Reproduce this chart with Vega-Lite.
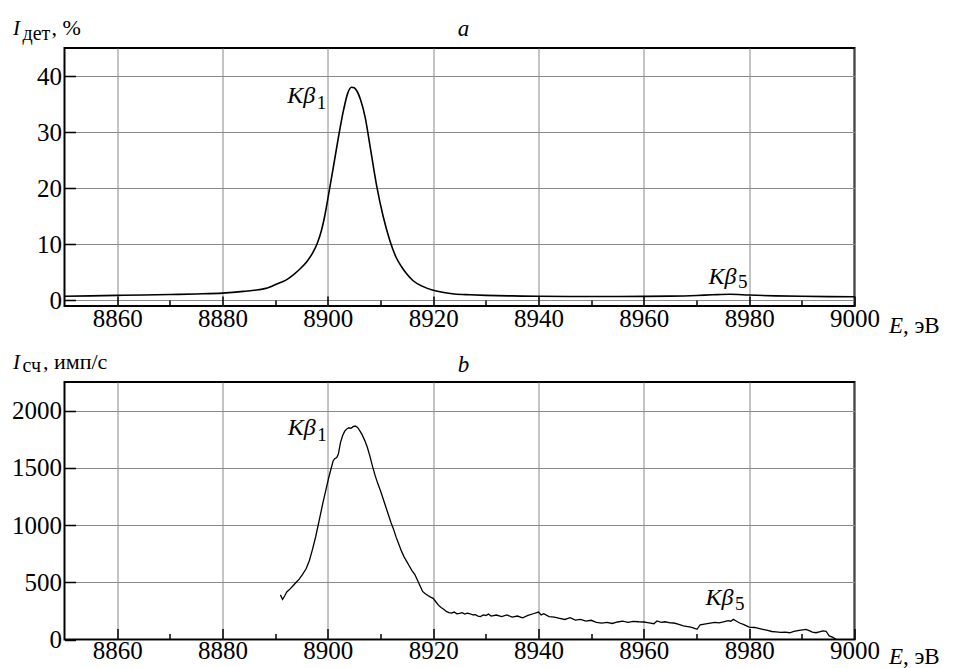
{
  "$schema": "https://vega.github.io/schema/vega-lite/v6.json",
  "padding": {"left": 10.5, "top": 16, "right": 0, "bottom": 0},
  "bounds": "flush",
  "spacing": 76,
  "background": "white",
  "config": {
    "font": "'Liberation Serif', 'Times New Roman', 'DejaVu Serif', serif",
    "view": {"stroke": "black", "strokeWidth": 2},
    "axis": {
      "domain": false,
      "labelFontSize": 25,
      "labelColor": "black",
      "tickColor": "black",
      "tickWidth": 1.5,
      "gridColor": "#8a8a8a",
      "gridWidth": 1,
      "labelOverlap": false,
      "labelFlush": false
    }
  },
  "datasets": {
    "top": [
      {"E": 8850, "I": 0.73}, {"E": 8855, "I": 0.8}, {"E": 8860, "I": 0.9}, {"E": 8865, "I": 0.95},
      {"E": 8870, "I": 1.05}, {"E": 8875, "I": 1.15}, {"E": 8880, "I": 1.3}, {"E": 8884, "I": 1.6},
      {"E": 8886, "I": 1.8}, {"E": 8888, "I": 2.1}, {"E": 8889, "I": 2.4}, {"E": 8890, "I": 2.8},
      {"E": 8891, "I": 3.2}, {"E": 8892.2, "I": 3.7}, {"E": 8893.5, "I": 4.6}, {"E": 8894.7, "I": 5.6},
      {"E": 8896, "I": 6.9}, {"E": 8897.2, "I": 8.6}, {"E": 8898, "I": 10.2}, {"E": 8898.8, "I": 12.5},
      {"E": 8899.4, "I": 15.0}, {"E": 8900, "I": 18.1}, {"E": 8901, "I": 23.5}, {"E": 8902, "I": 29.0},
      {"E": 8903, "I": 34.0}, {"E": 8903.8, "I": 37.0}, {"E": 8904.5, "I": 38.0}, {"E": 8905.0, "I": 37.9},
      {"E": 8905.6, "I": 37.2}, {"E": 8906.2, "I": 35.8}, {"E": 8907.1, "I": 32.6}, {"E": 8908.0, "I": 27.6},
      {"E": 8909.3, "I": 20.3}, {"E": 8910.5, "I": 15.0}, {"E": 8911.8, "I": 10.6}, {"E": 8913.0, "I": 7.6},
      {"E": 8914, "I": 6.0}, {"E": 8915, "I": 4.7}, {"E": 8916.2, "I": 3.5}, {"E": 8918, "I": 2.5},
      {"E": 8920, "I": 1.8}, {"E": 8922, "I": 1.4}, {"E": 8924, "I": 1.15}, {"E": 8927, "I": 1.0},
      {"E": 8930, "I": 0.9}, {"E": 8935, "I": 0.8}, {"E": 8940, "I": 0.73}, {"E": 8950, "I": 0.7},
      {"E": 8960, "I": 0.72}, {"E": 8965, "I": 0.76}, {"E": 8970, "I": 0.88}, {"E": 8973, "I": 1.0},
      {"E": 8976.3, "I": 1.1}, {"E": 8980, "I": 0.95}, {"E": 8985, "I": 0.8}, {"E": 8990, "I": 0.73},
      {"E": 8995, "I": 0.68}, {"E": 9000, "I": 0.65}
    ],
    "bot": [
      {"E": 8891.0, "N": 390}, {"E": 8891.4, "N": 350}, {"E": 8891.8, "N": 380}, {"E": 8892.2, "N": 415},
      {"E": 8892.8, "N": 440}, {"E": 8893.4, "N": 470}, {"E": 8894.0, "N": 500}, {"E": 8894.6, "N": 530},
      {"E": 8895.2, "N": 570}, {"E": 8895.9, "N": 620}, {"E": 8896.5, "N": 690}, {"E": 8897.1, "N": 790},
      {"E": 8897.7, "N": 900}, {"E": 8898.4, "N": 1050}, {"E": 8899.0, "N": 1180}, {"E": 8899.7, "N": 1320},
      {"E": 8900.2, "N": 1420}, {"E": 8900.6, "N": 1490}, {"E": 8901.0, "N": 1560}, {"E": 8901.3, "N": 1580},
      {"E": 8901.7, "N": 1590}, {"E": 8902.0, "N": 1620}, {"E": 8902.4, "N": 1720}, {"E": 8902.8, "N": 1780},
      {"E": 8903.2, "N": 1820}, {"E": 8903.6, "N": 1840}, {"E": 8904.0, "N": 1850}, {"E": 8904.4, "N": 1845},
      {"E": 8904.8, "N": 1860}, {"E": 8905.2, "N": 1865}, {"E": 8905.6, "N": 1855}, {"E": 8906.0, "N": 1830},
      {"E": 8906.5, "N": 1790}, {"E": 8907.0, "N": 1740}, {"E": 8907.5, "N": 1680}, {"E": 8908.0, "N": 1600},
      {"E": 8908.5, "N": 1510}, {"E": 8909.0, "N": 1430}, {"E": 8909.5, "N": 1360}, {"E": 8910.0, "N": 1300},
      {"E": 8910.5, "N": 1230}, {"E": 8911.0, "N": 1160}, {"E": 8911.5, "N": 1090}, {"E": 8912.0, "N": 1020},
      {"E": 8912.5, "N": 960}, {"E": 8913.0, "N": 890}, {"E": 8913.5, "N": 830}, {"E": 8914.0, "N": 770},
      {"E": 8914.5, "N": 720}, {"E": 8915.0, "N": 680}, {"E": 8915.5, "N": 640}, {"E": 8916.0, "N": 600},
      {"E": 8916.5, "N": 570}, {"E": 8917.0, "N": 520}, {"E": 8917.5, "N": 470}, {"E": 8918.0, "N": 420},
      {"E": 8918.5, "N": 400}, {"E": 8919.0, "N": 385}, {"E": 8919.5, "N": 370}, {"E": 8920.0, "N": 360},
      {"E": 8920.5, "N": 330}, {"E": 8921.0, "N": 300}, {"E": 8921.5, "N": 280}, {"E": 8922.0, "N": 265},
      {"E": 8922.5, "N": 245}, {"E": 8923.0, "N": 235}, {"E": 8923.5, "N": 230}, {"E": 8924.0, "N": 240},
      {"E": 8924.5, "N": 225}, {"E": 8925.0, "N": 228}, {"E": 8925.5, "N": 235}, {"E": 8926.0, "N": 222},
      {"E": 8926.5, "N": 230}, {"E": 8927.0, "N": 225}, {"E": 8927.5, "N": 215}, {"E": 8928.0, "N": 218},
      {"E": 8928.5, "N": 205}, {"E": 8929.0, "N": 200}, {"E": 8929.5, "N": 215}, {"E": 8930.0, "N": 210},
      {"E": 8930.5, "N": 222}, {"E": 8931.0, "N": 205}, {"E": 8932.0, "N": 214}, {"E": 8933.0, "N": 200},
      {"E": 8934.0, "N": 215}, {"E": 8935.0, "N": 195}, {"E": 8936.0, "N": 205}, {"E": 8937.0, "N": 190},
      {"E": 8938.0, "N": 210}, {"E": 8939.0, "N": 225}, {"E": 8940.0, "N": 240}, {"E": 8940.5, "N": 215},
      {"E": 8941.0, "N": 225}, {"E": 8942.0, "N": 200}, {"E": 8943.0, "N": 195}, {"E": 8944.0, "N": 185},
      {"E": 8945.0, "N": 175}, {"E": 8946.0, "N": 190}, {"E": 8947.0, "N": 170}, {"E": 8948.0, "N": 175},
      {"E": 8949.0, "N": 160}, {"E": 8950.0, "N": 168}, {"E": 8951.0, "N": 150}, {"E": 8952.0, "N": 144},
      {"E": 8953.0, "N": 150}, {"E": 8954.0, "N": 140}, {"E": 8955.0, "N": 153}, {"E": 8956.0, "N": 160},
      {"E": 8957.0, "N": 150}, {"E": 8958.0, "N": 159}, {"E": 8959.0, "N": 155}, {"E": 8960.0, "N": 153},
      {"E": 8961.0, "N": 145}, {"E": 8961.9, "N": 138}, {"E": 8962.5, "N": 162}, {"E": 8963.3, "N": 150},
      {"E": 8964.0, "N": 155}, {"E": 8965.0, "N": 145}, {"E": 8965.7, "N": 144}, {"E": 8966.5, "N": 135},
      {"E": 8967.5, "N": 120}, {"E": 8968.9, "N": 109}, {"E": 8969.5, "N": 100}, {"E": 8970.1, "N": 89},
      {"E": 8970.7, "N": 129}, {"E": 8971.5, "N": 135}, {"E": 8972.6, "N": 144}, {"E": 8973.5, "N": 150},
      {"E": 8974.3, "N": 145}, {"E": 8975.1, "N": 153}, {"E": 8976.0, "N": 165}, {"E": 8976.5, "N": 160},
      {"E": 8977.0, "N": 176}, {"E": 8977.6, "N": 160}, {"E": 8978.2, "N": 144}, {"E": 8979.0, "N": 130},
      {"E": 8980.0, "N": 109}, {"E": 8981.0, "N": 105}, {"E": 8982.0, "N": 95}, {"E": 8982.6, "N": 89},
      {"E": 8983.5, "N": 80}, {"E": 8984.3, "N": 70}, {"E": 8985.1, "N": 66}, {"E": 8986.0, "N": 62},
      {"E": 8986.8, "N": 65}, {"E": 8987.7, "N": 59}, {"E": 8988.5, "N": 70}, {"E": 8989.5, "N": 80},
      {"E": 8990.8, "N": 89}, {"E": 8991.5, "N": 75}, {"E": 8992.0, "N": 65}, {"E": 8992.7, "N": 59},
      {"E": 8993.5, "N": 68}, {"E": 8994.0, "N": 75}, {"E": 8994.6, "N": 72}, {"E": 8995.2, "N": 31},
      {"E": 8995.8, "N": 20}, {"E": 8996.5, "N": 2}
    ]
  },
  "vconcat": [
    {
      "width": 790,
      "height": 258,
      "layer": [
        {
          "data": {"name": "top"},
          "mark": {"type": "line", "color": "black", "strokeWidth": 1.6, "interpolate": "monotone"},
          "encoding": {
            "x": {"field": "E", "type": "quantitative", "scale": {"domain": [8850, 9000], "nice": false, "zero": false},
              "axis": {"title": null, "format": "d", "values": [8860, 8870, 8880, 8890, 8900, 8910, 8920, 8930, 8940, 8950, 8960, 8970, 8980, 8990, 9000],
                "labelExpr": "datum.value % 20 === 0 ? datum.label : ''",
                "gridOpacity": {"condition": {"test": "datum.value % 20 === 0", "value": 1}, "value": 0},
                "tickSize": {"condition": {"test": "datum.value % 20 === 0", "value": -10}, "value": -6},
                "labelPadding": 10}},
            "y": {"field": "I", "type": "quantitative", "scale": {"domain": [-1, 45], "nice": false, "zero": false},
              "axis": {"title": null, "values": [0, 5, 10, 15, 20, 25, 30, 35, 40],
                "labelExpr": "datum.value % 10 === 0 ? datum.label : ''",
                "gridOpacity": {"condition": {"test": "datum.value % 10 === 0", "value": 1}, "value": 0},
                "tickSize": {"condition": {"test": "datum.value % 10 === 0", "value": -11}, "value": -6},
                "labelPadding": 14}}
          }
        },
        {
          "data": {"values": [{}]},
          "mark": {"type": "text", "text": "I", "color": "black", "baseline": "alphabetic", "fontStyle": "italic", "fontSize": 21, "align": "left", "dx": -51.5, "dy": -13},
          "encoding": {"x": {"datum": 8850, "type": "quantitative"}, "y": {"datum": 45, "type": "quantitative"}}
        },
        {
          "data": {"values": [{}]},
          "mark": {"type": "text", "text": "дет", "color": "black", "baseline": "alphabetic", "fontSize": 20, "align": "left", "dx": -42, "dy": -8},
          "encoding": {"x": {"datum": 8850, "type": "quantitative"}, "y": {"datum": 45, "type": "quantitative"}}
        },
        {
          "data": {"values": [{}]},
          "mark": {"type": "text", "text": ", %", "color": "black", "baseline": "alphabetic", "fontSize": 22, "align": "left", "dx": -13, "dy": -13},
          "encoding": {"x": {"datum": 8850, "type": "quantitative"}, "y": {"datum": 45, "type": "quantitative"}}
        },
        {
          "data": {"values": [{}]},
          "mark": {"type": "text", "text": "a", "color": "black", "baseline": "alphabetic", "fontStyle": "italic", "fontSize": 23, "align": "center", "dx": 4, "dy": -12},
          "encoding": {"x": {"datum": 8925, "type": "quantitative"}, "y": {"datum": 45, "type": "quantitative"}}
        },
        {
          "data": {"values": [{}]},
          "mark": {"type": "text", "text": "E", "color": "black", "baseline": "alphabetic", "fontStyle": "italic", "fontSize": 23, "align": "left", "dx": 34.5, "dy": 27},
          "encoding": {"x": {"datum": 9000, "type": "quantitative"}, "y": {"datum": -1, "type": "quantitative"}}
        },
        {
          "data": {"values": [{}]},
          "mark": {"type": "text", "text": ", эВ", "color": "black", "baseline": "alphabetic", "fontSize": 23, "align": "left", "dx": 48.5, "dy": 27},
          "encoding": {"x": {"datum": 9000, "type": "quantitative"}, "y": {"datum": -1, "type": "quantitative"}}
        },
        {
          "data": {"values": [{}]},
          "mark": {"type": "text", "text": "Kβ", "color": "black", "baseline": "alphabetic", "fontStyle": "italic", "fontSize": 24, "align": "right"},
          "encoding": {"x": {"datum": 8897.6, "type": "quantitative"}, "y": {"datum": 35.25, "type": "quantitative"}}
        },
        {
          "data": {"values": [{}]},
          "mark": {"type": "text", "text": "1", "color": "black", "baseline": "alphabetic", "fontSize": 19, "align": "left"},
          "encoding": {"x": {"datum": 8897.9, "type": "quantitative"}, "y": {"datum": 34.2, "type": "quantitative"}}
        },
        {
          "data": {"values": [{}]},
          "mark": {"type": "text", "text": "Kβ", "color": "black", "baseline": "alphabetic", "fontStyle": "italic", "fontSize": 24, "align": "right"},
          "encoding": {"x": {"datum": 8977.6, "type": "quantitative"}, "y": {"datum": 2.98, "type": "quantitative"}}
        },
        {
          "data": {"values": [{}]},
          "mark": {"type": "text", "text": "5", "color": "black", "baseline": "alphabetic", "fontSize": 19, "align": "left"},
          "encoding": {"x": {"datum": 8977.9, "type": "quantitative"}, "y": {"datum": 2.2, "type": "quantitative"}}
        }
      ]
    },
    {
      "width": 790,
      "height": 257.5,
      "layer": [
        {
          "data": {"name": "bot"},
          "mark": {"type": "line", "color": "black", "strokeWidth": 1.3},
          "encoding": {
            "x": {"field": "E", "type": "quantitative", "scale": {"domain": [8850, 9000], "nice": false, "zero": false},
              "axis": {"title": null, "format": "d", "values": [8860, 8870, 8880, 8890, 8900, 8910, 8920, 8930, 8940, 8950, 8960, 8970, 8980, 8990, 9000],
                "labelExpr": "datum.value % 20 === 0 ? datum.label : ''",
                "gridOpacity": {"condition": {"test": "datum.value % 20 === 0", "value": 1}, "value": 0},
                "tickSize": {"condition": {"test": "datum.value % 20 === 0", "value": -11}, "value": -6},
                "labelPadding": 10}},
            "y": {"field": "N", "type": "quantitative", "scale": {"domain": [0, 2250], "nice": false, "zero": false},
              "axis": {"title": null, "values": [0, 250, 500, 750, 1000, 1250, 1500, 1750, 2000],
                "labelExpr": "datum.value % 500 === 0 ? datum.label : ''",
                "gridOpacity": {"condition": {"test": "datum.value % 500 === 0", "value": 1}, "value": 0},
                "tickSize": {"condition": {"test": "datum.value % 500 === 0", "value": -11}, "value": -6},
                "format": "d",
                "labelPadding": 14}}
          }
        },
        {
          "data": {"values": [{}]},
          "mark": {"type": "text", "text": "I", "color": "black", "baseline": "alphabetic", "fontStyle": "italic", "fontSize": 21, "align": "left", "dx": -51.5, "dy": -13.3},
          "encoding": {"x": {"datum": 8850, "type": "quantitative"}, "y": {"datum": 2250, "type": "quantitative"}}
        },
        {
          "data": {"values": [{}]},
          "mark": {"type": "text", "text": "сч", "color": "black", "baseline": "alphabetic", "fontSize": 20, "align": "left", "dx": -42, "dy": -10},
          "encoding": {"x": {"datum": 8850, "type": "quantitative"}, "y": {"datum": 2250, "type": "quantitative"}}
        },
        {
          "data": {"values": [{}]},
          "mark": {"type": "text", "text": ", имп/с", "color": "black", "baseline": "alphabetic", "fontSize": 22, "align": "left", "dx": -21.5, "dy": -13.3},
          "encoding": {"x": {"datum": 8850, "type": "quantitative"}, "y": {"datum": 2250, "type": "quantitative"}}
        },
        {
          "data": {"values": [{}]},
          "mark": {"type": "text", "text": "b", "color": "black", "baseline": "alphabetic", "fontStyle": "italic", "fontSize": 23, "align": "center", "dx": 4, "dy": -10},
          "encoding": {"x": {"datum": 8925, "type": "quantitative"}, "y": {"datum": 2250, "type": "quantitative"}}
        },
        {
          "data": {"values": [{}]},
          "mark": {"type": "text", "text": "E", "color": "black", "baseline": "alphabetic", "fontStyle": "italic", "fontSize": 23, "align": "left", "dx": 34.5, "dy": 24.5},
          "encoding": {"x": {"datum": 9000, "type": "quantitative"}, "y": {"datum": 0, "type": "quantitative"}}
        },
        {
          "data": {"values": [{}]},
          "mark": {"type": "text", "text": ", эВ", "color": "black", "baseline": "alphabetic", "fontSize": 23, "align": "left", "dx": 48.5, "dy": 24.5},
          "encoding": {"x": {"datum": 9000, "type": "quantitative"}, "y": {"datum": 0, "type": "quantitative"}}
        },
        {
          "data": {"values": [{}]},
          "mark": {"type": "text", "text": "Kβ", "color": "black", "baseline": "alphabetic", "fontStyle": "italic", "fontSize": 24, "align": "right"},
          "encoding": {"x": {"datum": 8897.7, "type": "quantitative"}, "y": {"datum": 1784, "type": "quantitative"}}
        },
        {
          "data": {"values": [{}]},
          "mark": {"type": "text", "text": "1", "color": "black", "baseline": "alphabetic", "fontSize": 19, "align": "left"},
          "encoding": {"x": {"datum": 8898.0, "type": "quantitative"}, "y": {"datum": 1732, "type": "quantitative"}}
        },
        {
          "data": {"values": [{}]},
          "mark": {"type": "text", "text": "Kβ", "color": "black", "baseline": "alphabetic", "fontStyle": "italic", "fontSize": 24, "align": "right"},
          "encoding": {"x": {"datum": 8977.0, "type": "quantitative"}, "y": {"datum": 299, "type": "quantitative"}}
        },
        {
          "data": {"values": [{}]},
          "mark": {"type": "text", "text": "5", "color": "black", "baseline": "alphabetic", "fontSize": 19, "align": "left"},
          "encoding": {"x": {"datum": 8977.3, "type": "quantitative"}, "y": {"datum": 255, "type": "quantitative"}}
        }
      ]
    }
  ]
}
